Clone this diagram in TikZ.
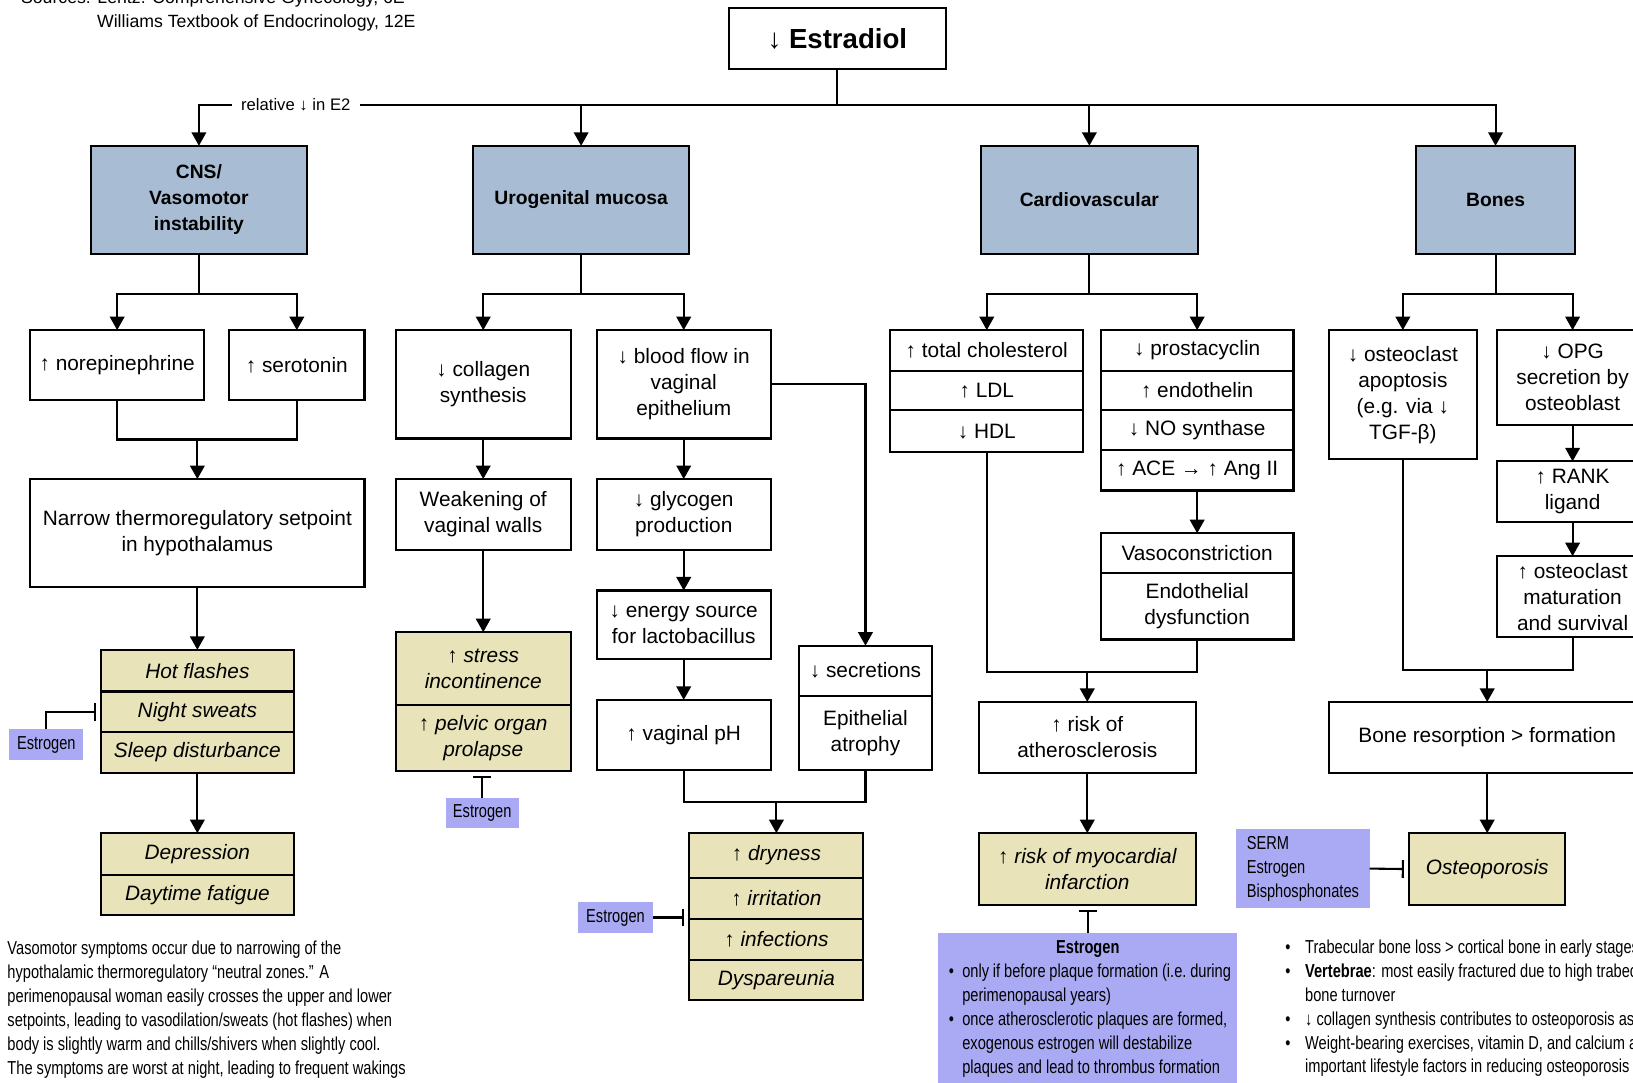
\documentclass[tikz,border=0pt]{standalone}
\usepackage{fontspec}
\setmainfont{Liberation Sans}
\newfontfamily\condfont[FakeStretch=0.78]{Liberation Sans}
\usepackage{xcolor}
\usepackage{tikz}
\usetikzlibrary{arrows.meta}

\definecolor{headblue}{RGB}{168,189,211}
\definecolor{symyellow}{RGB}{233,227,186}
\definecolor{rxpurple}{RGB}{170,170,244}

\tikzset{
    box/.style={draw, line width=2pt, fill=white, align=center, inner sep=0pt, outer sep=0pt,
        font=\fontsize{20}{25}\selectfont},
    headbox/.style={box, fill=headblue, font=\fontsize{18.5}{25}\selectfont\bfseries},
    symbox/.style={box, fill=symyellow, font=\fontsize{20}{25}\selectfont\itshape},
    rxbox/.style={fill=rxpurple, inner sep=0pt, outer sep=0pt, font=\condfont\fontsize{18}{23}\selectfont},
    link/.style={line width=2pt},
    arr/.style={line width=2pt, -{Triangle[length=13pt,width=14pt]}},
    blocks/.style={line width=2pt, -{Bar[width=17pt,line width=2pt]}, shorten >=5pt},
    note/.style={inner sep=0pt, align=left, font=\condfont\fontsize{18}{23}\selectfont}
}

\begin{document}
\begin{tikzpicture}[x=1pt, y=-1pt]
        \useasboundingbox (0,0) rectangle (1568,1039);

        % sources
        \node[anchor=base west, inner sep=0pt, font=\fontsize{17}{22}\selectfont] (src1) at (20,3.5) {Sources: Lentz: Comprehensive Gynecology, 6E};
        \node[anchor=base west, inner sep=0pt, font=\fontsize{17}{22}\selectfont] (src2) at (93,26) {Williams Textbook of Endocrinology, 12E};

        \node[box, minimum width=208pt, minimum height=58pt, font=\fontsize{26.5}{30}\selectfont\bfseries] (estradiol) at (804,37) {↓ Estradiol};

        % organ systems
        \node[headbox, minimum width=208pt, minimum height=104pt] (cns) at (191,192) {CNS/\\Vasomotor\\instability};
        \node[headbox, minimum width=208pt, minimum height=104pt] (uro) at (558,192) {Urogenital mucosa};
        \node[headbox, minimum width=208pt, minimum height=104pt] (cardio) at (1046,192) {Cardiovascular};
        \node[headbox, minimum width=152pt, minimum height=104pt] (bones) at (1436,192) {Bones};

        \coordinate (trunk) at (804,101);
        \draw[link] (estradiol.south) -- (trunk);
        \draw[arr] (trunk) -| (cns.north);
        \draw[arr] (trunk) -| (uro.north);
        \draw[arr] (trunk) -| (cardio.north);
        \draw[arr] (trunk) -| (bones.north);
        \node[fill=white, inner xsep=9pt, inner ysep=3pt, font=\fontsize{16}{18}\selectfont] (relative) at (284,101) {relative ↓ in E2};

        % CNS
        \node[box, minimum width=167pt, minimum height=67pt] (norepi) at (112.5,350.5) {↑ norepinephrine};
        \node[box, minimum width=130pt, minimum height=67pt] (sero) at (285,350.5) {↑ serotonin};
        \node[box, minimum width=321pt, minimum height=104pt] (narrow) at (189.5,512) {Narrow thermoregulatory setpoint\\in hypothalamus};
        \node[symbox, minimum width=185pt, minimum height=40pt, anchor=north] (hot) at (189.5,624) {Hot flashes};
        \node[symbox, minimum width=185pt, minimum height=39pt, anchor=north] (night) at (hot.south) {Night sweats};
        \node[symbox, minimum width=185pt, minimum height=39pt, anchor=north] (sleep) at (night.south) {Sleep disturbance};
        \node[symbox, minimum width=185pt, minimum height=40pt, anchor=north] (depr) at (189.5,800) {Depression};
        \node[symbox, minimum width=185pt, minimum height=39pt, anchor=north] (fatigue) at (depr.south) {Daytime fatigue};
        \node[rxbox, minimum width=71pt, minimum height=30pt] (estcns) at (44.5,715) {Estrogen};

        \coordinate (cnsfork) at (191,282);
        \coordinate (cnsjoin) at (189.5,422);
        \draw[link] (cns.south) -- (cnsfork);
        \draw[arr] (cnsfork) -| (norepi.north);
        \draw[arr] (cnsfork) -| (sero.north);
        \draw[link] (norepi.south) |- (cnsjoin) -| (sero.south);
        \draw[arr] (cnsjoin) -- (narrow.north);
        \draw[arr] (narrow.south) -- (hot.north);
        \draw[arr] (sleep.south) -- (depr.north);
        \draw[blocks] (estcns.north) |- (night.west);

        % urogenital
        \node[box, minimum width=168pt, minimum height=104pt] (collagen) at (464,369) {↓ collagen\\synthesis};
        \node[box, minimum width=167pt, minimum height=104pt] (bloodflow) at (656.5,369) {↓ blood flow in\\vaginal\\epithelium};
        \node[box, minimum width=168pt, minimum height=68pt] (weakening) at (464,494) {Weakening of\\vaginal walls};
        \node[symbox, minimum width=168pt, minimum height=70pt, anchor=north] (stress) at (464,607) {\textup{↑} stress\\incontinence};
        \node[symbox, minimum width=168pt, minimum height=63pt, anchor=north] (prolapse) at (stress.south) {\textup{↑} pelvic organ\\prolapse};
        \node[rxbox, minimum width=70pt, minimum height=29pt] (esturo) at (463,780.5) {Estrogen};
        \node[box, minimum width=167pt, minimum height=68pt] (glycogen) at (656.5,494) {↓ glycogen\\production};
        \node[box, minimum width=167pt, minimum height=66pt] (energy) at (656.5,600) {↓ energy source\\for lactobacillus};
        \node[box, minimum width=167pt, minimum height=67pt] (ph) at (656.5,705.5) {↑ vaginal pH};
        \node[box, minimum width=128pt, minimum height=48pt, anchor=north] (secr) at (831,620) {↓ secretions};
        \node[box, minimum width=128pt, minimum height=71pt, anchor=north] (atrophy) at (secr.south) {Epithelial\\atrophy};
        \node[symbox, minimum width=167pt, minimum height=43pt, anchor=north] (dry) at (745.5,800) {\textup{↑} dryness};
        \node[symbox, minimum width=167pt, minimum height=39pt, anchor=north] (irrit) at (dry.south) {\textup{↑} irritation};
        \node[symbox, minimum width=167pt, minimum height=40pt, anchor=north] (infect) at (irrit.south) {\textup{↑} infections};
        \node[symbox, minimum width=167pt, minimum height=38pt, anchor=north] (dysp) at (infect.south) {Dyspareunia};
        \node[rxbox, minimum width=72pt, minimum height=30pt] (estvag) at (591,881) {Estrogen};

        \coordinate (urofork) at (558,282);
        \coordinate (urojoin) at (745.5,770);
        \draw[link] (uro.south) -- (urofork);
        \draw[arr] (urofork) -| (collagen.north);
        \draw[arr] (urofork) -| (bloodflow.north);
        \draw[arr] (collagen.south) -- (weakening.north);
        \draw[arr] (weakening.south) -- (stress.north);
        \draw[blocks] (esturo.north) -- (esturo.north |- prolapse.south);
        \draw[arr] (bloodflow.south) -- (glycogen.north);
        \draw[arr] (glycogen.south) -- (energy.north);
        \draw[arr] (energy.south) -- (ph.north);
        \draw[arr] (bloodflow.east) -| (secr.north);
        \draw[link] (ph.south) |- (urojoin) -| (atrophy.south);
        \draw[arr] (urojoin) -- (dry.north);
        \draw[blocks] (estvag.east) -- (estvag.east -| irrit.west);

        % cardiovascular
        \node[box, minimum width=185pt, minimum height=39pt, anchor=north] (chol) at (947.5,317) {↑ total cholesterol};
        \node[box, minimum width=185pt, minimum height=38pt, anchor=north] (ldl) at (chol.south) {↑ LDL};
        \node[box, minimum width=185pt, minimum height=40pt, anchor=north] (hdl) at (ldl.south) {↓ HDL};
        \node[box, minimum width=185pt, minimum height=39pt, anchor=north] (prosta) at (1149.5,317) {↓ prostacyclin};
        \node[box, minimum width=185pt, minimum height=38pt, anchor=north] (endothelin) at (prosta.south) {↑ endothelin};
        \node[box, minimum width=185pt, minimum height=38pt, anchor=north] (nosyn) at (endothelin.south) {↓ NO synthase};
        \node[box, minimum width=185pt, minimum height=39pt, anchor=north] (ace) at (nosyn.south) {↑ ACE → ↑ Ang II};
        \node[box, minimum width=185pt, minimum height=38pt, anchor=north] (vaso) at (1149.5,512) {Vasoconstriction};
        \node[box, minimum width=185pt, minimum height=64pt, anchor=north] (endo) at (vaso.south) {Endothelial\\dysfunction};
        \node[box, minimum width=208pt, minimum height=68pt] (athero) at (1044,708) {↑ risk of\\atherosclerosis};
        \node[symbox, minimum width=208pt, minimum height=69pt] (mi) at (1044,834.5) {\textup{↑} risk of myocardial\\infarction};
        \node[rxbox, anchor=north, inner xsep=6pt, inner ysep=7pt] (estcv) at (1044.5,896) {\parbox{275pt}{{\centering\textbf{Estrogen}\par}\raggedright
            \hspace*{4pt}\makebox[13pt][l]{•}only if before plaque formation (i.e.\ during\\
            \hspace*{17pt}perimenopausal years)\\
            \hspace*{4pt}\makebox[13pt][l]{•}once atherosclerotic plaques are formed,\\
            \hspace*{17pt}exogenous estrogen will destabilize\\
            \hspace*{17pt}plaques and lead to thrombus formation}};

        \coordinate (cvfork) at (1046,282);
        \coordinate (cvjoin) at (1044,645);
        \draw[link] (cardio.south) -- (cvfork);
        \draw[arr] (cvfork) -| (chol.north);
        \draw[arr] (cvfork) -| (prosta.north);
        \draw[arr] (ace.south) -- (vaso.north);
        \draw[link] (hdl.south) |- (cvjoin) -| (endo.south);
        \draw[arr] (cvjoin) -- (athero.north);
        \draw[arr] (athero.south) -- (mi.north);
        \draw[blocks] (estcv.north) -- (estcv.north |- mi.south);

        % bones
        \node[box, minimum width=142pt, minimum height=124pt] (apop) at (1347,379) {↓ osteoclast\\apoptosis\\(e.g. via ↓\\TGF-β)};
        \node[box, minimum width=146pt, minimum height=91pt] (opg) at (1510,362.5) {↓ OPG\\secretion by\\osteoblast};
        \node[box, minimum width=146pt, minimum height=58pt] (rank) at (1510,472) {↑ RANK\\ligand};
        \node[box, minimum width=146pt, minimum height=78pt] (matur) at (1510,573) {↑ osteoclast\\maturation\\and survival};
        \node[box, minimum width=304pt, minimum height=68pt] (resorp) at (1428,708) {Bone resorption > formation};
        \node[symbox, minimum width=150pt, minimum height=69pt] (osteo) at (1428,834.5) {Osteoporosis};
        \node[rxbox, minimum width=128pt, minimum height=76pt, align=left] (serm) at (1251,834) {SERM\\Estrogen\\Bisphosphonates};

        \coordinate (bonefork) at (1436,282);
        \coordinate (bonejoin) at (1428,643);
        \draw[link] (bones.south) -- (bonefork);
        \draw[arr] (bonefork) -| (apop.north);
        \draw[arr] (bonefork) -| (opg.north);
        \draw[arr] (opg.south) -- (rank.north);
        \draw[arr] (rank.south) -- (matur.north);
        \draw[link] (apop.south) |- (bonejoin) -| (matur.south);
        \draw[arr] (bonejoin) -- (resorp.north);
        \draw[arr] (resorp.south) -- (osteo.north);
        \draw[blocks] (serm.east) -- (osteo.west);

        % notes
        \node[note, anchor=north west] (vasonote) at (7,903) {Vasomotor symptoms occur due to narrowing of the\\
            hypothalamic thermoregulatory “neutral zones.” A\\
            perimenopausal woman easily crosses the upper and lower\\
            setpoints, leading to vasodilation/sweats (hot flashes) when\\
            body is slightly warm and chills/shivers when slightly cool.\\
            The symptoms are worst at night, leading to frequent wakings};
        \node[note, anchor=north west] (bonenote) at (1234,902) {\makebox[19pt][l]{•}Trabecular bone loss > cortical bone in early stages\\
            \makebox[19pt][l]{•}\textbf{Vertebrae}: most easily fractured due to high trabecular\\
            \hspace*{19pt}bone turnover\\
            \makebox[19pt][l]{•}↓ collagen synthesis contributes to osteoporosis as\\
            \makebox[19pt][l]{•}Weight-bearing exercises, vitamin D, and calcium are\\
            \hspace*{19pt}important lifestyle factors in reducing osteoporosis};
\end{tikzpicture}
\end{document}
